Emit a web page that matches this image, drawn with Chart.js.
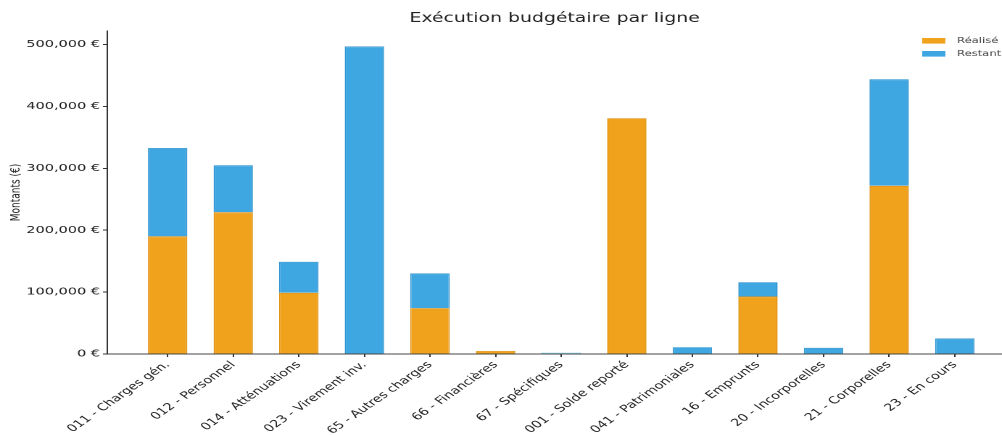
<!DOCTYPE html>
<html lang="fr">
<head>
<meta charset="utf-8">
<title>Exécution budgétaire par ligne</title>
<script src="https://cdn.jsdelivr.net/npm/chart.js@4.4.1/dist/chart.umd.min.js"></script>
<style>
  html, body { margin: 0; padding: 0; background: #fff; overflow: hidden; }
  /* the source image is stretched horizontally, so the chart is drawn narrow and widened */
  #wrap { width: 691px; height: 435px; transform: scaleX(1.45); transform-origin: 0 0; }
</style>
</head>
<body>
<div id="wrap"><canvas id="budgetChart"></canvas></div>
<script>
// ===============================
// DONNÉES
// ===============================
const categories = [
  "011 - Charges gén.", "012 - Personnel", "014 - Atténuations", "023 - Virement inv.",
  "65 - Autres charges", "66 - Financières", "67 - Spécifiques", "001 - Solde reporté",
  "041 - Patrimoniales", "16 - Emprunts", "20 - Incorporelles", "21 - Corporelles", "23 - En cours"
];
const realise = [190000, 229000, 99000, 0, 74000, 5000, 500, 381000, 0, 93000, 0, 272000, 0];
const restant = [143000, 76000, 50000, 497000, 56000, 0, 1500, 0, 11000, 23000, 10000, 172000, 25000];
const yTicks = [0, 100000, 200000, 300000, 400000, 500000];

const ORANGE = "#F1A21C";
const BLUE = "#3EA6E0";
const FONT = "'DejaVu Sans', sans-serif";

// ===============================
// LÉGENDE DANS LE GRAPHIQUE (haut droite)
// ===============================
const cornerLegend = {
  id: "cornerLegend",
  afterDraw(chart) {
    const { ctx, chartArea } = chart;
    ctx.save();
    ctx.font = "8px " + FONT;
    ctx.textBaseline = "middle";
    chart.data.datasets.forEach((ds, i) => {
      const y = chartArea.top + 10 + i * 13;
      ctx.fillStyle = ds.backgroundColor;
      ctx.fillRect(chartArea.right - 55, y - 3, 16, 5.6);
      ctx.fillStyle = "#444";
      ctx.fillText(ds.label, chartArea.right - 31, y);
    });
    ctx.restore();
  }
};

// ===============================
// GRAPHIQUE
// ===============================
const toPoints = arr => arr.map((v, i) => ({ x: i, y: v }));

new Chart(document.getElementById("budgetChart"), {
  type: "bar",
  data: {
    datasets: [
      {
        label: "Réalisé",
        data: toPoints(realise),
        backgroundColor: ORANGE,
        borderColor: "#DE9112",
        borderWidth: 0.8,
        barPercentage: 0.6,
        categoryPercentage: 1
      },
      {
        label: "Restant",
        data: toPoints(restant),
        backgroundColor: BLUE,
        borderColor: "#2F93CF",
        borderWidth: 0.8,
        barPercentage: 0.6,
        categoryPercentage: 1
      }
    ]
  },
  options: {
    responsive: true,
    maintainAspectRatio: false,
    devicePixelRatio: 2,
    animation: false,
    layout: { padding: 0 },
    plugins: {
      legend: { display: false },
      tooltip: { enabled: false },
      title: {
        display: true,
        text: "Exécution budgétaire par ligne",
        fullSize: false,
        color: "#222",
        font: { family: FONT, size: 13, weight: "normal" },
        padding: { top: 11, bottom: 4.4 }
      }
    },
    scales: {
      x: {
        type: "linear",
        stacked: true,
        offset: false,
        min: -0.92,
        max: 12.72,
        grid: { display: true, drawOnChartArea: false, drawTicks: true, tickLength: 3, color: "#333", offset: false },
        border: { display: true, color: "#444", width: 1 },
        ticks: {
          autoSkip: false,
          minRotation: 45,
          maxRotation: 45,
          padding: 2,
          color: "#222",
          font: { family: FONT, size: 10 },
          callback: v => categories[v] ?? ""
        },
        afterBuildTicks: s => { s.ticks = categories.map((c, i) => ({ value: i })); },
        afterFit: s => { s.height = 81; }
      },
      y: {
        stacked: true,
        min: 0,
        max: 522000,
        grid: { display: true, drawOnChartArea: false, drawTicks: true, tickLength: 3, color: "#333" },
        border: { display: true, color: "#333", width: 1 },
        ticks: {
          padding: 2,
          color: "#222",
          font: { family: FONT, size: 10 },
          callback: v => v.toLocaleString("en-US") + " €"
        },
        afterBuildTicks: s => { s.ticks = yTicks.map(v => ({ value: v })); },
        title: {
          display: true,
          text: "Montants (€)",
          color: "#222",
          font: { family: FONT, size: 9 },
          padding: { top: 6, bottom: 0 }
        },
        afterFit: s => { s.width = 74; }
      }
    }
  },
  plugins: [cornerLegend]
});
</script>
</body>
</html>
